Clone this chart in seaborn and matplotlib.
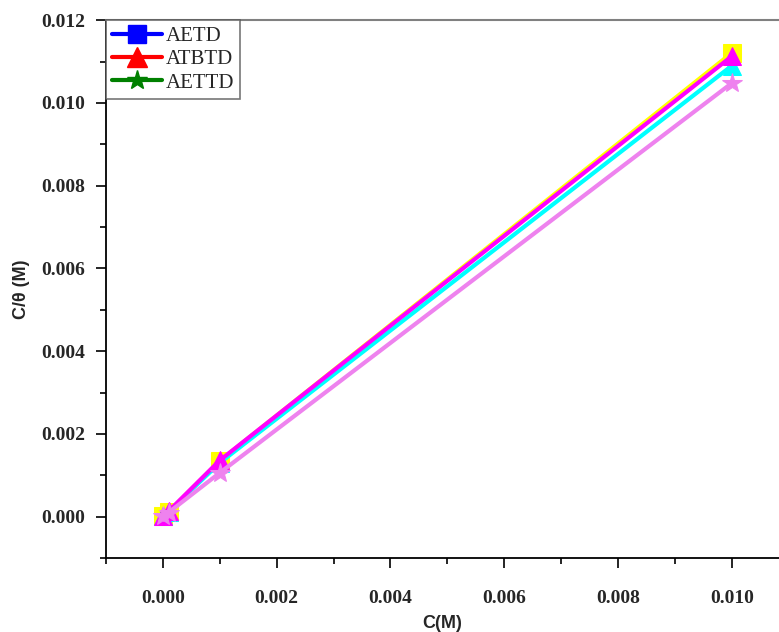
import matplotlib.pyplot as plt
import seaborn as sns
from matplotlib.lines import Line2D
from matplotlib.ticker import MultipleLocator

# concentration (M) and C/theta (M)
conc = [0.00001, 0.0001, 0.001, 0.01]
aetd = [0.00002, 0.00012, 0.00135, 0.01121]
atbtd = [0.00002, 0.00012, 0.00130, 0.01090]
aetd_b = [0.00002, 0.00013, 0.00136, 0.01113]
aettd = [0.00001, 0.00010, 0.00106, 0.01048]

legend_names = ['AETD', 'ATBTD', 'AETTD']

sns.set_theme(style='ticks')
plt.rcParams['font.family'] = ['Liberation Serif', 'DejaVu Serif']

fig = plt.figure(figsize=(7.79, 6.32), dpi=100)
ax = fig.add_axes([0.136, 0.117, 0.864, 0.851])

# drawn colours as they appear in the plot area
series = [
    (aetd, '#ffff00', 's'),
    (atbtd, '#00ffff', '^'),
    (aetd_b, '#ff00ff', '^'),
    (aettd, '#ee82ee', '*'),
]
for vals, col, mk in series:
    sns.lineplot(x=conc, y=vals, ax=ax, color=col, marker=mk, markersize=15 if mk == '*' else 13,
                 markeredgecolor=col, linewidth=3, sort=False)

ax.set_xlim(-0.001, 0.01083)
ax.set_ylim(-0.001, 0.012)
ax.xaxis.set_major_locator(MultipleLocator(0.002))
ax.xaxis.set_minor_locator(MultipleLocator(0.001))
ax.yaxis.set_major_locator(MultipleLocator(0.002))
ax.yaxis.set_minor_locator(MultipleLocator(0.001))
ax.xaxis.set_major_formatter(plt.FormatStrFormatter('%.3f'))
ax.yaxis.set_major_formatter(plt.FormatStrFormatter('%.3f'))

ax.tick_params(which='major', direction='out', length=7, width=1.2, color='black',
               labelsize=14)
ax.tick_params(axis='x', which='major', pad=16)
ax.tick_params(axis='y', which='major', pad=8)
ax.tick_params(which='minor', direction='out', length=4, width=1.2, color='black')
for lab in ax.get_xticklabels() + ax.get_yticklabels():
    lab.set_fontweight('bold')

for side in ['left', 'bottom']:
    ax.spines[side].set_color('black')
    ax.spines[side].set_linewidth(1.3)
ax.spines['top'].set_color('#808080')
ax.spines['top'].set_linewidth(1.5)
ax.spines['right'].set_visible(False)

ax.set_xlabel('C(M)', family='Liberation Sans', fontweight='bold', fontsize=13, labelpad=6)
ax.set_ylabel('C/θ (M)', family='Liberation Sans', fontweight='bold', fontsize=13, labelpad=8)

handles = [
    Line2D([], [], color='blue', marker='s', markersize=13, linewidth=3),
    Line2D([], [], color='red', marker='^', markersize=14, linewidth=3),
    Line2D([], [], color='green', marker='*', markersize=15, linewidth=3),
]
leg = ax.legend(handles, legend_names, loc='upper left', bbox_to_anchor=(0.0, 1.0),
                fontsize=15, frameon=True, fancybox=False, handlelength=2.4,
                handletextpad=0.15, borderpad=0.3, labelspacing=0.18, borderaxespad=0)
leg.get_frame().set_edgecolor('#555555')
leg.get_frame().set_linewidth(1.2)

fig.savefig('out.png', dpi=100)
